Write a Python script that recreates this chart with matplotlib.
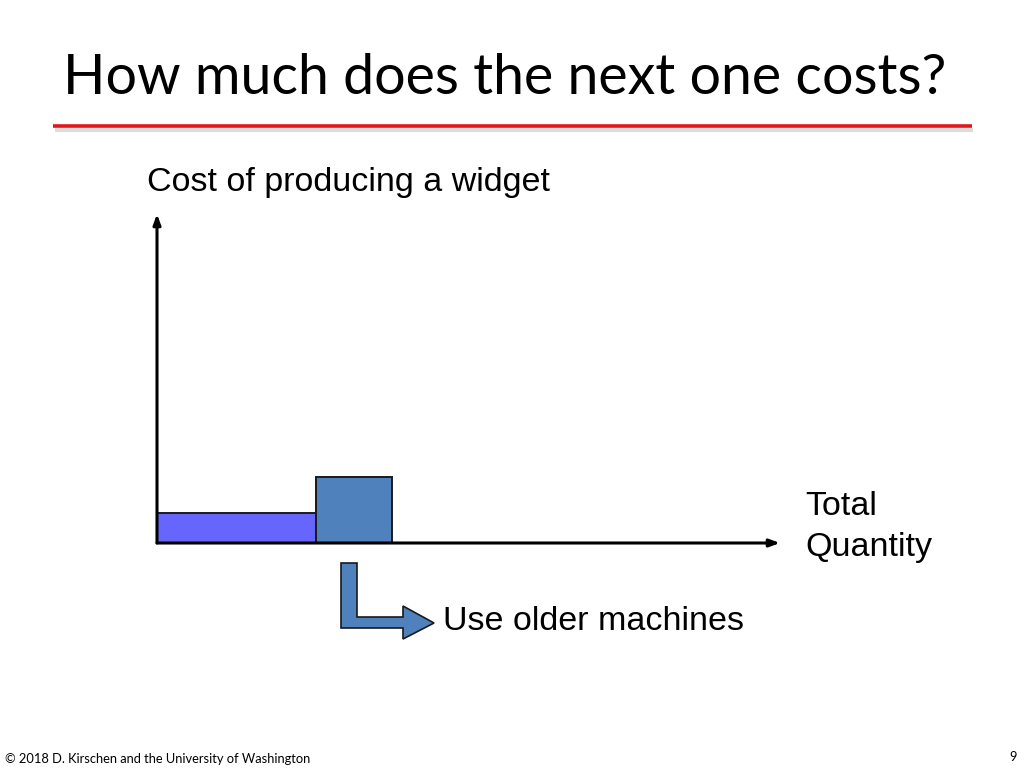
import matplotlib
matplotlib.use("Agg")
import matplotlib.pyplot as plt
from matplotlib.patches import Polygon
from matplotlib.lines import Line2D

# ---- data ----
bar_starts = [0.0, 2.0]          # cumulative quantity where each block starts
bar_widths = [2.0, 0.95]         # quantity supplied by each block
bar_costs = [1.0, 2.2]           # cost of producing a widget
bar_colors = ["#6666FF", "#4F81BD"]

title = "How much does the next one costs?"
y_label = "Cost of producing a widget"
x_label = "Total\nQuantity"
note = "Use older machines"
footer_left = "\u00a9 2018 D. Kirschen and the University of Washington"
footer_right = "9"

W, H = 1024, 768
fig = plt.figure(figsize=(W / 100, H / 100), dpi=100)
fig.patch.set_facecolor("white")

def fx(px):
    return px / W

def fy(py):
    return 1 - py / H

# title
fig.text(fx(505), fy(78), title, fontsize=40, family=["Lato", "DejaVu Sans"],
         ha="center", va="center", color="black")

# red rule with shadow
fig.add_artist(Line2D([fx(55), fx(973)], [fy(129.5), fy(129.5)], color="#d4d4d4",
                      lw=3.0, solid_capstyle="butt", alpha=0.8))
fig.add_artist(Line2D([fx(53), fx(972)], [fy(126), fy(126)], color="#E0181B",
                      lw=2.6, solid_capstyle="butt"))

# axes
x0, y0, x1, y1 = 157, 543, 780, 214
ax = fig.add_axes([fx(x0), fy(y0), fx(x1) - fx(x0), fy(y1) - fy(y0)])
ax.set_xlim(0, (x1 - x0) / 79.5)
ax.set_ylim(0, (y0 - y1) / 30.0)
ax.axis("off")

ax.bar(bar_starts, bar_costs, width=bar_widths, align="edge", color=bar_colors,
       edgecolor="#1a1a1a", linewidth=1.4, zorder=2)

ax.annotate("", xy=(0, 1), xytext=(0, 0), xycoords="axes fraction",
            arrowprops=dict(arrowstyle="-|>,head_length=0.6,head_width=0.22",
                            lw=2.2, color="black", shrinkA=0, shrinkB=0),
            annotation_clip=False)
ax.annotate("", xy=(1, 0), xytext=(0, 0), xycoords="axes fraction",
            arrowprops=dict(arrowstyle="-|>,head_length=0.6,head_width=0.22",
                            lw=2.2, color="black", shrinkA=0, shrinkB=0),
            annotation_clip=False)

# labels
lab_font = ["Liberation Sans", "DejaVu Sans"]
fig.text(fx(147), fy(182), y_label, fontsize=24.5, family=lab_font,
         ha="left", va="center")
fig.text(fx(805), fy(527), x_label, fontsize=24.5, family=lab_font,
         ha="left", va="center", linespacing=1.4)
fig.text(fx(443), fy(622), note, fontsize=24.5, family=lab_font,
         ha="left", va="center")

# L-shaped arrow
pts = [(341, 563), (357, 563), (357, 617), (403, 617), (403, 606), (434, 623),
       (403, 639), (403, 628), (341, 628)]
fig.add_artist(Polygon([(fx(px), fy(py)) for px, py in pts], closed=True,
                       facecolor="#4F81BD", edgecolor="#1a1a1a", lw=1.2,
                       transform=fig.transFigure))

# footer
fig.text(fx(5), fy(759), footer_left, fontsize=9.3, family=["Lato", "DejaVu Sans"],
         ha="left", va="center")
fig.text(fx(1017), fy(757), footer_right, fontsize=9.3, family=["Lato", "DejaVu Sans"],
         ha="right", va="center")

fig.savefig("out.png", dpi=100, facecolor="white")
